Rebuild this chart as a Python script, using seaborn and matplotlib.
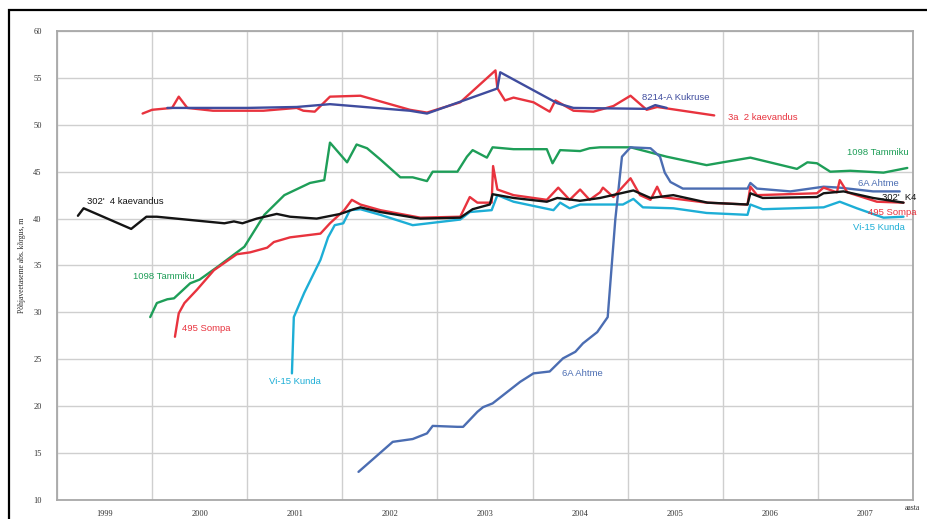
import matplotlib
matplotlib.use("Agg")
import matplotlib.pyplot as plt
import seaborn as sns
import pandas as pd
from matplotlib.patches import Rectangle
from matplotlib.ticker import FixedLocator, NullFormatter

# ---------------- data (year, groundwater level m) ----------------
years = [1999, 2000, 2001, 2002, 2003, 2004, 2005, 2006, 2007]
y_ticks = [10, 15, 20, 25, 30, 35, 40, 45, 50, 55, 60]

k4_t = [1999.22, 1999.28, 1999.78, 1999.94, 2000.05, 2000.76, 2000.86, 2000.95, 2001.10,
        2001.31, 2001.45, 2001.73, 2001.98, 2002.12, 2002.19, 2002.40, 2002.82, 2003.24,
        2003.37, 2003.55, 2003.58, 2003.80, 2004.15, 2004.26, 2004.50, 2004.71, 2005.06,
        2005.24, 2005.48, 2005.84, 2006.26, 2006.29, 2006.42, 2006.99, 2007.06, 2007.27,
        2007.58, 2007.90]
k4_v = [40.3, 41.1, 38.9, 40.2, 40.2, 39.5, 39.7, 39.5, 40.0,
        40.5, 40.2, 40.0, 40.5, 41.0, 41.2, 40.7, 40.0, 40.1,
        41.0, 41.5, 42.6, 42.2, 41.8, 42.2, 41.9, 42.2, 43.0,
        42.2, 42.5, 41.7, 41.5, 42.7, 42.2, 42.3, 42.7, 42.9,
        42.2, 41.7]

k3a_t = [1999.90, 2000.00, 2000.21, 2000.28, 2000.37, 2000.64, 2001.17, 2001.52, 2001.59,
         2001.71, 2001.87, 2002.19, 2002.71, 2002.89, 2003.24, 2003.61, 2003.63, 2003.71,
         2003.80, 2004.01, 2004.18, 2004.24, 2004.43, 2004.64, 2004.85, 2005.03, 2005.20,
         2005.31, 2005.91]
k3a_v = [51.2, 51.6, 51.8, 53.0, 51.8, 51.5, 51.5, 51.8, 51.5,
         51.4, 53.0, 53.1, 51.6, 51.3, 52.4, 55.8, 53.9, 52.6,
         52.9, 52.4, 51.4, 52.6, 51.5, 51.4, 52.0, 53.1, 51.6,
         51.9, 51.0]

kuk_t = [2000.16, 2001.00, 2001.52, 2001.87, 2002.71, 2002.89, 2003.61, 2003.63, 2003.66,
         2004.26, 2004.43, 2005.20, 2005.29, 2005.41]
kuk_v = [51.8, 51.8, 51.9, 52.2, 51.5, 51.2, 53.8, 53.9, 55.6,
         52.3, 51.8, 51.7, 52.1, 51.8]

tam_t = [1999.98, 2000.05, 2000.16, 2000.23, 2000.40, 2000.50, 2000.68, 2000.97, 2001.18,
         2001.39, 2001.66, 2001.81, 2001.87, 2002.05, 2002.15, 2002.26, 2002.40, 2002.61,
         2002.74, 2002.89, 2002.95, 2003.21, 2003.31, 2003.37, 2003.52, 2003.58, 2003.80,
         2004.15, 2004.21, 2004.29, 2004.50, 2004.60, 2004.71, 2005.03, 2005.41, 2005.83,
         2006.00, 2006.29, 2006.78, 2006.89, 2006.99, 2007.13, 2007.34, 2007.69, 2007.94]
tam_v = [29.5, 31.0, 31.4, 31.5, 33.1, 33.5, 34.8, 37.0, 40.4,
         42.5, 43.8, 44.1, 48.1, 46.0, 47.9, 47.5, 46.3, 44.4,
         44.4, 44.0, 45.0, 45.0, 46.6, 47.3, 46.5, 47.6, 47.4,
         47.4, 45.9, 47.3, 47.2, 47.5, 47.6, 47.6, 46.6, 45.7,
         46.0, 46.5, 45.3, 46.0, 45.9, 45.0, 45.1, 44.9, 45.4]

som_t = [2000.24, 2000.28, 2000.34, 2000.47, 2000.65, 2000.89, 2001.03, 2001.21, 2001.28,
         2001.45, 2001.77, 2001.87, 2002.02, 2002.10, 2002.19, 2002.40, 2002.82, 2003.24,
         2003.34, 2003.42, 2003.57, 2003.585, 2003.63, 2003.80, 2004.15, 2004.27, 2004.39,
         2004.50, 2004.60, 2004.71, 2004.74, 2004.85, 2005.03, 2005.13, 2005.24, 2005.31,
         2005.36, 2005.83, 2006.26, 2006.29, 2006.36, 2006.99, 2007.06, 2007.20, 2007.23,
         2007.31, 2007.62, 2007.90]
som_v = [27.4, 29.9, 31.0, 32.4, 34.5, 36.2, 36.4, 36.9, 37.5,
         38.0, 38.4, 39.5, 40.9, 42.0, 41.5, 40.9, 40.1, 40.2,
         42.3, 41.7, 41.7, 45.6, 43.1, 42.5, 42.0, 43.3, 42.0,
         43.1, 42.0, 42.8, 43.3, 42.3, 44.3, 42.5, 42.0, 43.4,
         42.3, 41.7, 41.5, 43.4, 42.5, 42.7, 43.3, 42.8, 44.1,
         42.8, 41.8, 41.7]

kun_t = [2001.47, 2001.49, 2001.60, 2001.77, 2001.85, 2001.92, 2002.01, 2002.08, 2002.19,
         2002.40, 2002.74, 2003.24, 2003.34, 2003.57, 2003.63, 2003.80, 2004.22, 2004.29,
         2004.39, 2004.50, 2004.71, 2004.95, 2005.06, 2005.16, 2005.48, 2005.83, 2006.26,
         2006.29, 2006.42, 2007.06, 2007.23, 2007.41, 2007.69, 2007.90]
kun_v = [23.5, 29.5, 32.1, 35.6, 38.0, 39.3, 39.5, 40.9, 41.0,
         40.4, 39.3, 39.9, 40.7, 40.9, 42.5, 41.8, 40.9, 41.7,
         41.1, 41.5, 41.5, 41.5, 42.1, 41.2, 41.1, 40.6, 40.4,
         41.5, 41.0, 41.2, 41.8, 41.1, 40.1, 40.2]

aht_t = [2002.17, 2002.53, 2002.74, 2002.89, 2002.95, 2003.21, 2003.27, 2003.42, 2003.48,
         2003.58, 2003.87, 2004.01, 2004.18, 2004.32, 2004.45, 2004.53, 2004.68, 2004.79,
         2004.87, 2004.94, 2005.03, 2005.24, 2005.34, 2005.39, 2005.45, 2005.58, 2006.26,
         2006.29, 2006.36, 2006.71, 2007.06, 2007.23, 2007.58, 2007.86]
aht_v = [13.0, 16.2, 16.5, 17.1, 17.9, 17.8, 17.8, 19.4, 19.9,
         20.3, 22.6, 23.5, 23.7, 25.1, 25.8, 26.7, 27.9, 29.5,
         39.9, 46.6, 47.6, 47.5, 46.6, 44.9, 43.9, 43.2, 43.2,
         43.8, 43.2, 42.9, 43.4, 43.3, 42.9, 42.9]

# ---------------- style ----------------
sns.set_style("white")
plt.rcParams['font.family'] = ['Liberation Sans', 'DejaVu Sans']

RED = "#E8333E"
GREEN = "#1E9E58"
CYAN = "#1DAED6"
NAVY = "#3F4C9E"
STEEL = "#4B6DB2"
BLACK = "#141414"

fig = plt.figure(figsize=(9.27, 5.19), dpi=100)
ax = fig.add_axes([57/927, 1 - 500/519, (913-57)/927, (500-31)/519])

series = [
    (kun_t, kun_v, CYAN),
    (tam_t, tam_v, GREEN),
    (aht_t, aht_v, STEEL),
    (som_t, som_v, RED),
    (k4_t, k4_v, BLACK),
    (k3a_t, k3a_v, RED),
    (kuk_t, kuk_v, NAVY),
]
for t, v, c in series:
    df = pd.DataFrame({"t": t, "v": v})
    sns.lineplot(data=df, x="t", y="v", sort=False, estimator=None, color=c,
                 lw=1.7, ax=ax)

ax.set_xlim(1999, 2008)
ax.set_ylim(10, 60)
ax.xaxis.set_major_locator(FixedLocator(list(range(1999, 2009))))
ax.xaxis.set_major_formatter(NullFormatter())
ax.xaxis.set_minor_locator(FixedLocator([y + 0.5 for y in years]))
ax.set_xticklabels([str(y) for y in years], minor=True)
ax.set_yticks(y_ticks)
ax.set_yticklabels([str(v) for v in y_ticks])
ax.tick_params(axis='both', which='both', length=0)
ax.tick_params(axis='x', which='minor', pad=7)
ax.tick_params(axis='y', pad=11)
for lab in ax.get_xticklabels(minor=True) + ax.get_yticklabels():
    lab.set_fontfamily('Liberation Serif')
    lab.set_fontsize(6)
    lab.set_color('#333333')

ax.grid(True, which='major', color='#cfcfcf', lw=1.0)
ax.set_axisbelow(True)
for s in ax.spines.values():
    s.set_color('#a8a8a8')
    s.set_linewidth(1.3)

ax.set_xlabel("")
ax.set_ylabel("Põhjaveetaseme abs. kõrgus, m", fontsize=5.5, labelpad=5,
              fontfamily='Liberation Serif')
ax.text(0.990, -0.016, "aasta", transform=ax.transAxes, fontsize=5.5,
        fontfamily='Liberation Serif', va='center', ha='left', color='#333333')

# ---------------- series labels ----------------
fs = 6.8
ax.text(1999.32, 41.8, "302'  4 kaevandus", color=BLACK, fontsize=fs, va='center')
ax.text(1999.80, 33.8, "1098 Tammiku", color=GREEN, fontsize=fs, va='center')
ax.text(2000.31, 28.3, "495 Sompa", color=RED, fontsize=fs, va='center')
ax.text(2001.23, 22.6, "Vi-15 Kunda", color=CYAN, fontsize=fs, va='center')
ax.text(2004.31, 23.5, "6A Ahtme", color=STEEL, fontsize=fs, va='center')
ax.text(2005.15, 52.9, "8214-A Kukruse", color=NAVY, fontsize=fs, va='center')
ax.text(2006.05, 50.8, "3a  2 kaevandus", color=RED, fontsize=fs, va='center')
ax.text(2007.31, 47.0, "1098 Tammiku", color=GREEN, fontsize=fs, va='center')
ax.text(2007.42, 43.7, "6A Ahtme", color=STEEL, fontsize=fs, va='center')
ax.text(2007.67, 42.3, "302'  K4", color=BLACK, fontsize=fs, va='center', clip_on=False)
ax.text(2007.53, 40.7, "495 Sompa", color=RED, fontsize=fs, va='center')
ax.text(2007.37, 39.1, "Vi-15 Kunda", color=CYAN, fontsize=fs, va='center')

# outer black frame (extends beyond right and bottom edges)
fig.add_artist(Rectangle((9/927, -0.05), 1.2, 1 - 10/519 + 0.05,
                         transform=fig.transFigure, fill=False,
                         edgecolor='black', lw=1.6))

fig.savefig("out.png", dpi=100)
